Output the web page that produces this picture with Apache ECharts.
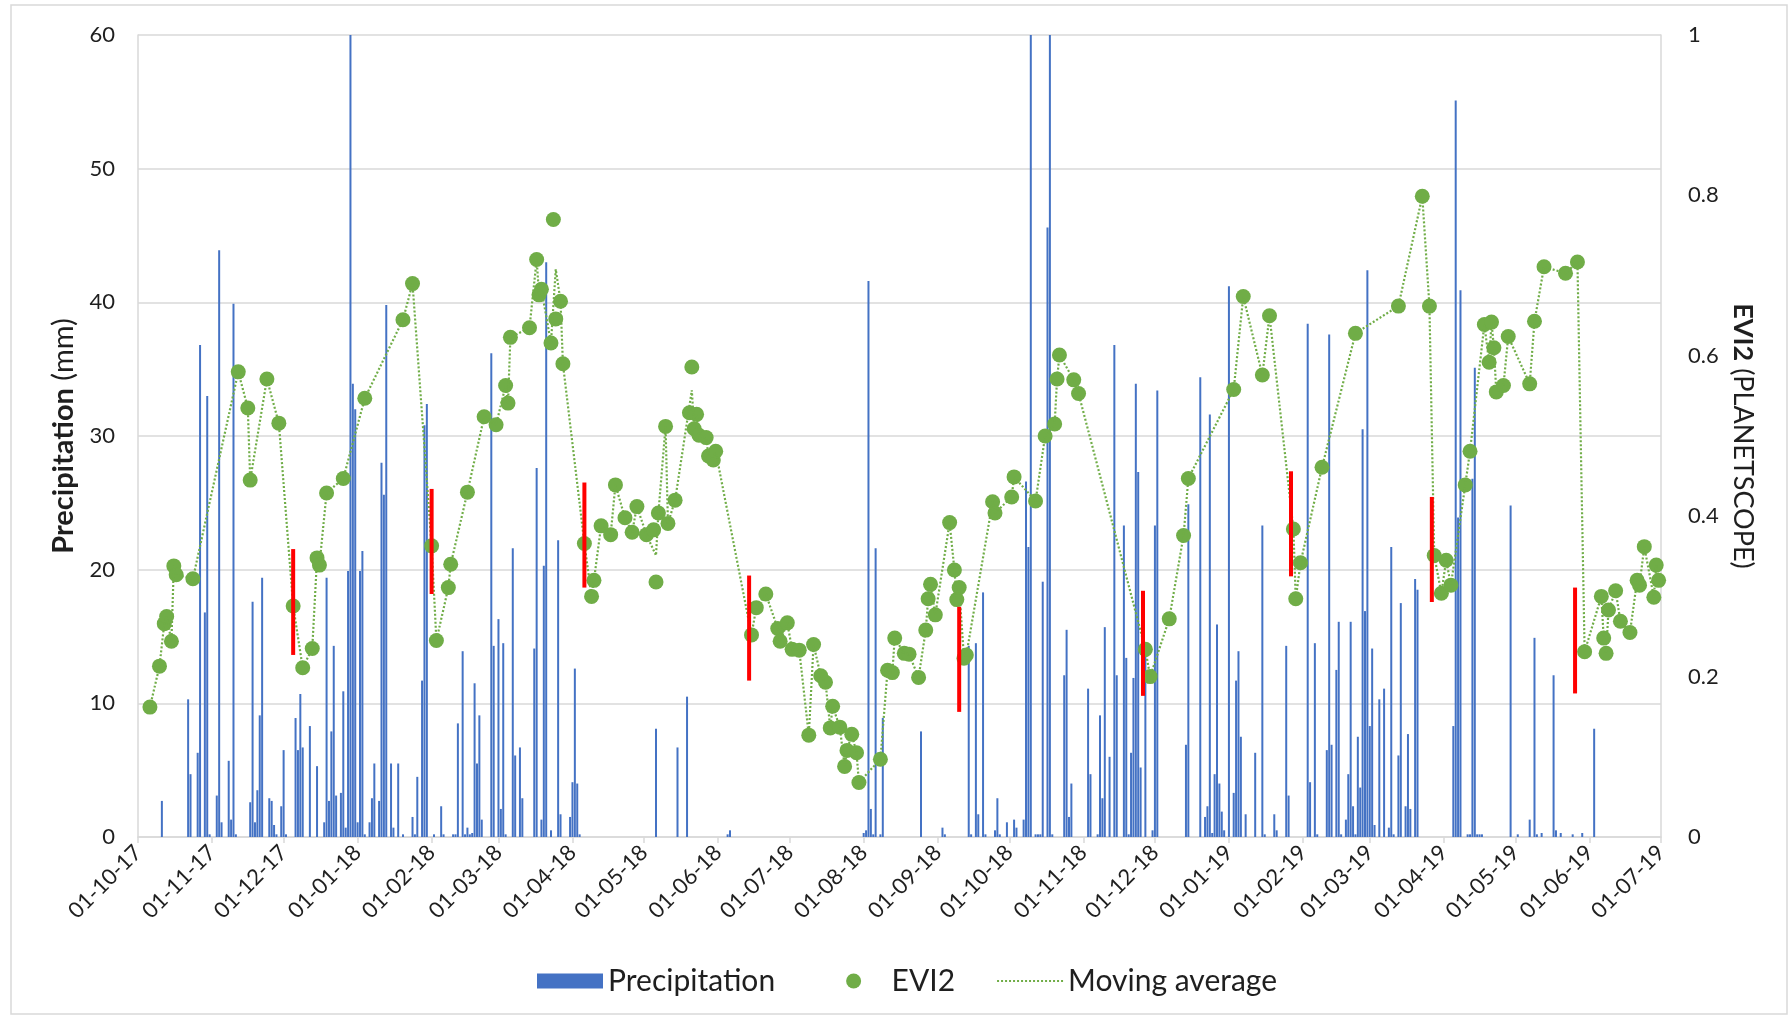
<!DOCTYPE html>
<html>
<head>
<meta charset="utf-8">
<script src="https://cdn.jsdelivr.net/npm/echarts@6/dist/echarts.min.js"></script>
<style>
  html, body { margin: 0; padding: 0; background: #ffffff; }
  #chart { width: 1791px; height: 1019px; }
</style>
</head>
<body>
<div id="chart"></div>
<script>
// Month ticks on the date axis (dd-mm-yy)
const tickLabels = ['01-10-17','01-11-17','01-12-17','01-01-18','01-02-18','01-03-18','01-04-18',
  '01-05-18','01-06-18','01-07-18','01-08-18','01-09-18','01-10-18','01-11-18','01-12-18',
  '01-01-19','01-02-19','01-03-19','01-04-19','01-05-19','01-06-19','01-07-19'];

// Daily precipitation (mm); days without rain are omitted
const rainDates = [
  '2017-10-11','2017-10-22','2017-10-23','2017-10-26','2017-10-27','2017-10-29','2017-10-30','2017-10-31',
  '2017-11-03','2017-11-04','2017-11-05','2017-11-08','2017-11-09','2017-11-10','2017-11-11','2017-11-17',
  '2017-11-18','2017-11-19','2017-11-20','2017-11-21','2017-11-22','2017-11-25','2017-11-26','2017-11-27',
  '2017-11-28','2017-11-30','2017-12-01','2017-12-02','2017-12-06','2017-12-07','2017-12-08','2017-12-09',
  '2017-12-12','2017-12-15','2017-12-18','2017-12-19','2017-12-20','2017-12-21','2017-12-22','2017-12-23',
  '2017-12-25','2017-12-26','2017-12-27','2017-12-28','2017-12-29','2017-12-30','2017-12-31',
  '2018-01-01','2018-01-02','2018-01-03','2018-01-04','2018-01-06','2018-01-07','2018-01-08','2018-01-10',
  '2018-01-11','2018-01-12','2018-01-13','2018-01-15','2018-01-16','2018-01-18','2018-01-20','2018-01-24',
  '2018-01-25','2018-01-26','2018-01-28','2018-01-29','2018-01-30','2018-02-02','2018-02-05','2018-02-06',
  '2018-02-10','2018-02-11','2018-02-12','2018-02-14','2018-02-15','2018-02-16','2018-02-17','2018-02-18',
  '2018-02-19','2018-02-20','2018-02-21','2018-02-22','2018-02-26','2018-02-27','2018-03-01','2018-03-02',
  '2018-03-03','2018-03-04','2018-03-07','2018-03-08','2018-03-10','2018-03-11','2018-03-16','2018-03-17',
  '2018-03-19','2018-03-20','2018-03-21','2018-03-23','2018-03-26','2018-03-27','2018-03-31','2018-04-01',
  '2018-04-02','2018-04-03','2018-04-04','2018-05-06','2018-05-15','2018-05-19','2018-06-05','2018-06-06',
  '2018-08-01','2018-08-02','2018-08-03','2018-08-04','2018-08-05','2018-08-06','2018-08-08','2018-08-09',
  '2018-08-25','2018-09-03','2018-09-04','2018-09-14','2018-09-15','2018-09-17','2018-09-18','2018-09-20',
  '2018-09-21','2018-09-25','2018-09-26','2018-09-27','2018-09-30','2018-10-03','2018-10-04','2018-10-07',
  '2018-10-08','2018-10-09','2018-10-10','2018-10-12','2018-10-13','2018-10-14','2018-10-15','2018-10-17',
  '2018-10-18','2018-10-19','2018-10-24','2018-10-25','2018-10-26','2018-10-27','2018-11-03','2018-11-04',
  '2018-11-07','2018-11-08','2018-11-09','2018-11-10','2018-11-12','2018-11-14','2018-11-15','2018-11-18',
  '2018-11-19','2018-11-20','2018-11-21','2018-11-22','2018-11-23','2018-11-24','2018-11-25','2018-11-27',
  '2018-11-30','2018-12-01','2018-12-02','2018-12-14','2018-12-15','2018-12-20','2018-12-22','2018-12-23',
  '2018-12-24','2018-12-25','2018-12-26','2018-12-27','2018-12-28','2018-12-29','2018-12-30',
  '2019-01-01','2019-01-03','2019-01-04','2019-01-05','2019-01-06','2019-01-08','2019-01-12','2019-01-15',
  '2019-01-16','2019-01-20','2019-01-21','2019-01-25','2019-01-26','2019-02-03','2019-02-04','2019-02-06',
  '2019-02-07','2019-02-11','2019-02-12','2019-02-13','2019-02-15','2019-02-16','2019-02-17','2019-02-19',
  '2019-02-20','2019-02-21','2019-02-22','2019-02-23','2019-02-24','2019-02-25','2019-02-26','2019-02-27',
  '2019-02-28','2019-03-01','2019-03-02','2019-03-03','2019-03-05','2019-03-07','2019-03-09','2019-03-10',
  '2019-03-11','2019-03-13','2019-03-14','2019-03-16','2019-03-17','2019-03-18','2019-03-20','2019-03-21',
  '2019-04-05','2019-04-06','2019-04-07','2019-04-08','2019-04-11','2019-04-12','2019-04-13','2019-04-14',
  '2019-04-15','2019-04-16','2019-04-17','2019-04-29','2019-05-02','2019-05-07','2019-05-09','2019-05-10',
  '2019-05-12','2019-05-17','2019-05-18','2019-05-20','2019-05-25','2019-05-29','2019-06-03'];
const rainValues = [
  2.7,10.3,4.7,6.3,36.8,16.8,33.0,0.2,
  3.1,43.9,1.1,5.7,1.3,39.9,0.2,2.6,
  17.6,1.1,3.5,9.1,19.4,2.9,2.7,0.9,
  0.2,2.3,6.5,0.2,8.9,6.5,10.7,6.7,
  8.3,5.3,1.1,19.4,2.7,7.9,14.3,3.1,
  3.3,10.9,0.7,19.9,60,33.9,32.0,
  1.1,19.9,21.4,0.2,1.1,2.9,5.5,2.7,
  28.0,25.6,39.8,5.5,0.7,5.5,0.2,1.5,
  0.2,4.5,11.7,30.8,32.4,0.2,2.3,0.2,
  0.2,0.2,8.5,13.9,0.2,0.7,0.2,0.3,
  11.5,5.5,9.1,1.3,36.2,14.3,16.3,2.1,
  14.5,0.2,21.6,6.1,6.7,2.9,14.1,27.6,
  1.3,20.3,43.0,0.5,22.2,1.7,1.5,4.1,
  12.6,4.0,0.2,8.1,6.7,10.5,0.2,0.5,
  0.3,0.5,41.6,2.1,0.2,21.6,0.2,8.9,
  7.9,0.7,0.2,14.3,0.2,14.5,1.7,18.3,
  0.2,0.5,2.9,0.2,1.1,1.3,0.7,1.3,
  26.6,21.7,60,0.2,0.2,0.2,19.1,45.6,
  60,0.2,12.1,15.5,1.5,4.0,11.1,4.7,
  0.2,9.1,2.9,15.7,6.0,36.8,12.1,23.3,
  13.4,0.2,6.3,11.9,33.9,27.3,5.2,14.0,
  0.5,23.3,33.4,6.9,24.9,34.4,1.5,2.3,
  31.6,0.3,4.7,15.9,4.0,1.9,0.5,
  41.2,3.3,11.7,13.9,7.5,1.7,6.3,23.3,
  0.2,1.7,0.5,14.3,3.1,38.4,4.1,14.5,
  0.2,6.5,37.6,6.9,12.5,16.1,0.2,1.3,
  4.7,16.1,2.3,0.2,7.5,3.7,30.5,16.9,
  42.4,8.3,14.1,0.9,10.3,11.1,0.7,21.7,
  0.2,6.1,17.5,2.3,7.7,2.1,19.3,18.5,
  8.3,55.1,23.9,40.9,0.2,0.2,26.8,35.1,
  0.2,0.2,0.2,24.8,0.2,1.3,14.9,0.2,
  0.3,12.1,0.5,0.3,0.2,0.3,8.1];

// EVI2 observations (PlanetScope)
const evi2Dates = [
  '2017-10-06','2017-10-10','2017-10-12','2017-10-13','2017-10-15','2017-10-16','2017-10-17','2017-10-24',
  '2017-11-12','2017-11-16','2017-11-17','2017-11-24','2017-11-29','2017-12-05','2017-12-09','2017-12-13',
  '2017-12-15','2017-12-16','2017-12-19','2017-12-26','2018-01-04','2018-01-20','2018-01-24','2018-02-01',
  '2018-02-03','2018-02-08','2018-02-09','2018-02-16','2018-02-23','2018-02-28','2018-03-04','2018-03-05',
  '2018-03-06','2018-03-14','2018-03-17','2018-03-18','2018-03-19','2018-03-23','2018-03-24','2018-03-25',
  '2018-03-27','2018-03-28','2018-04-06','2018-04-09','2018-04-10','2018-04-13','2018-04-17','2018-04-19',
  '2018-04-23','2018-04-26','2018-04-28','2018-05-02','2018-05-05','2018-05-06','2018-05-07','2018-05-10',
  '2018-05-11','2018-05-14','2018-05-20','2018-05-21','2018-05-22','2018-05-23','2018-05-24','2018-05-27',
  '2018-05-28','2018-05-30','2018-05-31','2018-06-15','2018-06-17','2018-06-21','2018-06-26','2018-06-27',
  '2018-06-30','2018-07-02','2018-07-05','2018-07-09','2018-07-11','2018-07-14','2018-07-16','2018-07-18',
  '2018-07-19','2018-07-22','2018-07-24','2018-07-25','2018-07-27','2018-07-29','2018-07-30','2018-08-08',
  '2018-08-11','2018-08-13','2018-08-14','2018-08-18','2018-08-20','2018-08-24','2018-08-27','2018-08-28',
  '2018-08-29','2018-08-31','2018-09-06','2018-09-08','2018-09-09','2018-09-10','2018-09-12','2018-09-13',
  '2018-09-24','2018-09-25','2018-10-02','2018-10-03','2018-10-12','2018-10-16','2018-10-20','2018-10-21',
  '2018-10-22','2018-10-28','2018-10-30','2018-11-27','2018-11-29','2018-12-07','2018-12-13','2018-12-15',
  '2019-01-03','2019-01-07','2019-01-15','2019-01-18','2019-01-28','2019-01-29','2019-01-31','2019-02-09',
  '2019-02-23','2019-03-13','2019-03-23','2019-03-26','2019-03-28','2019-03-31','2019-04-02','2019-04-04',
  '2019-04-10','2019-04-12','2019-04-18','2019-04-20','2019-04-21','2019-04-22','2019-04-23','2019-04-26',
  '2019-04-28','2019-05-07','2019-05-09','2019-05-13','2019-05-22','2019-05-27','2019-05-30','2019-06-06',
  '2019-06-07','2019-06-08','2019-06-09','2019-06-12','2019-06-14','2019-06-18','2019-06-21','2019-06-22',
  '2019-06-24','2019-06-28','2019-06-29','2019-06-30'];
const evi2Values = [
  0.162,0.213,0.266,0.275,0.244,0.338,0.327,0.322,
  0.580,0.535,0.445,0.571,0.516,0.288,0.211,0.235,
  0.348,0.339,0.429,0.447,0.547,0.645,0.690,0.363,
  0.245,0.311,0.340,0.430,0.524,0.514,0.563,0.541,
  0.623,0.635,0.720,0.676,0.683,0.616,0.770,0.646,
  0.668,0.590,0.366,0.300,0.320,0.388,0.377,0.439,
  0.398,0.380,0.412,0.377,0.383,0.318,0.404,0.512,
  0.391,0.420,0.529,0.586,0.509,0.527,0.501,0.498,
  0.475,0.470,0.481,0.252,0.286,0.303,0.260,0.244,
  0.267,0.234,0.233,0.127,0.240,0.201,0.193,0.136,
  0.163,0.137,0.088,0.108,0.128,0.105,0.068,0.097,
  0.208,0.205,0.248,0.229,0.228,0.199,0.258,0.297,
  0.315,0.277,0.392,0.333,0.296,0.311,0.223,0.227,
  0.418,0.404,0.424,0.449,0.419,0.500,0.515,0.571,
  0.601,0.570,0.553,0.234,0.200,0.272,0.376,0.447,
  0.558,0.674,0.576,0.650,0.384,0.297,0.342,0.461,
  0.628,0.662,0.799,0.662,0.351,0.304,0.345,0.314,
  0.439,0.481,0.639,0.592,0.642,0.610,0.555,0.563,
  0.624,0.565,0.643,0.711,0.703,0.717,0.231,0.300,
  0.248,0.229,0.283,0.307,0.269,0.255,0.320,0.314,
  0.362,0.299,0.339,0.320];

// Moving average of EVI2 (dotted trend line vertices)
const maDates = [
  '2017-10-06','2017-10-10','2017-10-12','2017-10-13','2017-10-15','2017-10-16','2017-10-17','2017-10-24',
  '2017-11-12','2017-11-16','2017-11-17','2017-11-24','2017-11-29','2017-12-05','2017-12-09','2017-12-13',
  '2017-12-15','2017-12-16','2017-12-19','2017-12-26','2018-01-04','2018-01-20','2018-01-24','2018-02-01',
  '2018-02-03','2018-02-08','2018-02-09','2018-02-16','2018-02-23','2018-02-28','2018-03-04','2018-03-05',
  '2018-03-06','2018-03-14','2018-03-17','2018-03-18','2018-03-19','2018-03-23','2018-03-25',
  '2018-03-27','2018-03-28','2018-04-06','2018-04-09','2018-04-10','2018-04-13','2018-04-17','2018-04-19',
  '2018-04-23','2018-04-26','2018-04-28','2018-05-02','2018-05-06','2018-05-07','2018-05-10',
  '2018-05-11','2018-05-14','2018-05-21','2018-05-22','2018-05-23','2018-05-24','2018-05-27',
  '2018-05-28','2018-05-30','2018-05-31','2018-06-15','2018-06-17','2018-06-21','2018-06-26','2018-06-27',
  '2018-06-30','2018-07-02','2018-07-05','2018-07-09','2018-07-11','2018-07-14','2018-07-16','2018-07-18',
  '2018-07-19','2018-07-22','2018-07-24','2018-07-25','2018-07-27','2018-07-29','2018-07-30','2018-08-08',
  '2018-08-11','2018-08-13','2018-08-14','2018-08-18','2018-08-20','2018-08-24','2018-08-27','2018-08-28',
  '2018-08-29','2018-08-31','2018-09-06','2018-09-08','2018-09-09','2018-09-10','2018-09-12','2018-09-13',
  '2018-09-24','2018-09-25','2018-10-02','2018-10-03','2018-10-12','2018-10-16','2018-10-20','2018-10-21',
  '2018-10-22','2018-10-28','2018-10-30','2018-11-27','2018-11-29','2018-12-07','2018-12-13','2018-12-15',
  '2019-01-03','2019-01-07','2019-01-15','2019-01-18','2019-01-28','2019-01-29','2019-01-31','2019-02-09',
  '2019-02-23','2019-03-13','2019-03-23','2019-03-26','2019-03-28','2019-03-31','2019-04-02','2019-04-04',
  '2019-04-10','2019-04-12','2019-04-18','2019-04-20','2019-04-21','2019-04-22','2019-04-23','2019-04-26',
  '2019-04-28','2019-05-07','2019-05-09','2019-05-13','2019-05-22','2019-05-27','2019-05-30','2019-06-06',
  '2019-06-07','2019-06-08','2019-06-09','2019-06-12','2019-06-14','2019-06-18','2019-06-21','2019-06-22',
  '2019-06-24','2019-06-28','2019-06-29','2019-06-30'];
const maValues = [
  0.162,0.213,0.266,0.275,0.244,0.338,0.327,0.322,
  0.580,0.535,0.445,0.571,0.516,0.288,0.211,0.235,
  0.348,0.339,0.429,0.447,0.547,0.645,0.690,0.363,
  0.245,0.311,0.340,0.430,0.524,0.514,0.563,0.541,
  0.623,0.635,0.720,0.676,0.683,0.616,0.708,
  0.668,0.590,0.366,0.300,0.320,0.388,0.377,0.439,
  0.398,0.380,0.412,0.377,0.351,0.404,0.512,
  0.391,0.420,0.557,0.509,0.527,0.501,0.498,
  0.475,0.470,0.481,0.252,0.286,0.303,0.260,0.244,
  0.267,0.234,0.233,0.127,0.240,0.201,0.193,0.136,
  0.163,0.137,0.088,0.108,0.128,0.105,0.068,0.097,
  0.208,0.205,0.248,0.229,0.228,0.199,0.258,0.297,
  0.315,0.277,0.392,0.333,0.296,0.311,0.223,0.227,
  0.418,0.404,0.424,0.449,0.419,0.500,0.515,0.571,
  0.601,0.570,0.553,0.234,0.200,0.272,0.376,0.447,
  0.558,0.674,0.576,0.650,0.384,0.297,0.342,0.461,
  0.628,0.662,0.799,0.662,0.351,0.304,0.345,0.314,
  0.439,0.481,0.639,0.592,0.642,0.610,0.555,0.563,
  0.624,0.565,0.643,0.711,0.703,0.717,0.231,0.300,
  0.248,0.229,0.283,0.307,0.269,0.255,0.320,0.314,
  0.362,0.299,0.339,0.320];

// Red event markers on the EVI2 scale (date, lower end, upper end)
const markDates = ['2017-12-05','2018-02-01','2018-04-06','2018-06-14','2018-09-10',
  '2018-11-26','2019-01-27','2019-03-27','2019-05-26'];
const markLow  = [0.227,0.303,0.311,0.195,0.156,0.176,0.325,0.293,0.179];
const markHigh = [0.359,0.434,0.442,0.326,0.287,0.307,0.456,0.424,0.311];

const FONT = 'Lato, "Open Sans", "DejaVu Sans", sans-serif';
const TEXT = '#1f1f1f';
const GRIDC = '#d9d9d9';
const DAY = 86400000;

// Dates are placed on a linear axis counted in days from the first tick
function dayIndex(y, m, d) {
  return Math.round((Date.UTC(y, m - 1, d) - Date.UTC(2017, 9, 1)) / DAY);
}
function isoDay(s) {
  const p = s.split('-').map(Number);
  return dayIndex(p[0], p[1], p[2]);
}
function tickDay(lbl) {
  const p = lbl.split('-').map(Number);
  return dayIndex(2000 + p[2], p[1], p[0]);
}
const tickDays = tickLabels.map(tickDay);
const labelByDay = {};
tickDays.forEach((t, i) => { labelByDay[t] = tickLabels[i]; });

const rainData = rainDates.map((d, i) => [isoDay(d), rainValues[i]]);
const eviData  = evi2Dates.map((d, i) => [isoDay(d), evi2Values[i]]);
const maData   = maDates.map((d, i) => [isoDay(d), maValues[i]]);
const markData = markDates.map((d, i) => [isoDay(d), markLow[i], markHigh[i]]);

const chart = echarts.init(document.getElementById('chart'), null, { renderer: 'canvas' });

chart.setOption({
  animation: false,
  backgroundColor: '#ffffff',
  textStyle: { fontFamily: FONT },
  graphic: [{
    type: 'rect', silent: true, z: -10,
    shape: { x: 11, y: 5, width: 1776, height: 1009 },
    style: { fill: 'transparent', stroke: GRIDC, lineWidth: 1.5 }
  }],
  grid: { left: 138, right: 130, top: 35, bottom: 182 },
  legend: {
    data: [
      { name: 'Precipitation', icon: 'rect' },
      { name: 'EVI2', icon: 'circle' },
      { name: 'Moving average', itemStyle: { color: 'rgba(0,0,0,0)', borderWidth: 0, opacity: 0 } }
    ],
    // wider spacing after the first entry
    formatter: name => (name === 'Precipitation' ? name + '\u2002\u2002' : name),
    left: 537,
    top: 966,
    padding: 0,
    itemWidth: 66,
    itemHeight: 15,
    itemGap: 41,
    textStyle: { fontFamily: FONT, fontSize: 30, color: TEXT }
  },
  xAxis: {
    type: 'value',
    min: tickDays[0],
    max: tickDays[tickDays.length - 1],
    splitLine: { show: false },
    axisLine: { show: true, onZero: false, lineStyle: { color: GRIDC, width: 1.5 } },
    axisTick: { show: true, customValues: tickDays, length: 6, lineStyle: { color: GRIDC, width: 1.5 } },
    axisLabel: {
      customValues: tickDays,
      rotate: 45,
      margin: 12,
      fontSize: 22,
      color: TEXT,
      fontFamily: FONT,
      formatter: v => labelByDay[v] || ''
    }
  },
  yAxis: [{
    type: 'value',
    position: 'left',
    min: 0, max: 60, interval: 10,
    name: '{b|Precipitation}{r| (mm)}',
    nameLocation: 'middle',
    nameRotate: 90,
    nameGap: 56,
    nameTextStyle: {
      rich: {
        b: { fontFamily: FONT, fontSize: 29, fontWeight: 'bold', color: TEXT },
        r: { fontFamily: FONT, fontSize: 29, color: TEXT }
      }
    },
    axisLine: { show: true, lineStyle: { color: GRIDC, width: 1.5 } },
    axisTick: { show: false },
    axisLabel: { fontSize: 22, color: TEXT, margin: 23, fontFamily: FONT },
    splitLine: { show: true, lineStyle: { color: GRIDC, width: 1.5 } }
  }, {
    type: 'value',
    position: 'right',
    min: 0, max: 1, interval: 0.2,
    name: '{b|EVI2}{r| (PLANETSCOPE)}',
    nameLocation: 'middle',
    nameRotate: -90,
    nameGap: 62,
    nameTextStyle: {
      rich: {
        b: { fontFamily: FONT, fontSize: 27, fontWeight: 'bold', color: TEXT },
        r: { fontFamily: FONT, fontSize: 27, color: TEXT }
      }
    },
    axisLine: { show: true, lineStyle: { color: GRIDC, width: 1.5 } },
    axisTick: { show: false },
    axisLabel: { fontSize: 22, color: TEXT, margin: 27, fontFamily: FONT },
    splitLine: { show: false }
  }],
  series: [{
    name: 'Precipitation',
    type: 'bar',
    yAxisIndex: 0,
    data: rainData,
    barWidth: 2,
    itemStyle: { color: '#4472C4' },
    z: 2
  }, {
    name: 'EVI2',
    type: 'scatter',
    yAxisIndex: 1,
    data: eviData,
    symbol: 'circle',
    symbolSize: 15,
    itemStyle: { color: '#70AD47', opacity: 1 },
    z: 3
  }, {
    name: 'Moving average',
    type: 'line',
    yAxisIndex: 1,
    data: maData,
    symbol: 'none',
    showSymbol: false,
    lineStyle: { color: '#70AD47', width: 2.2, type: [2, 2] },
    itemStyle: { color: '#70AD47' },
    z: 4
  }, {
    name: 'Events',
    type: 'custom',
    yAxisIndex: 1,
    data: markData,
    encode: { x: 0, y: [1, 2] },
    renderItem: function (params, api) {
      const top = api.coord([api.value(0), api.value(2)]);
      const bot = api.coord([api.value(0), api.value(1)]);
      return {
        type: 'rect',
        shape: { x: top[0] - 2, y: top[1], width: 4, height: bot[1] - top[1] },
        style: { fill: '#FF0000' }
      };
    },
    z: 5
  }]
});
</script>
</body>
</html>
